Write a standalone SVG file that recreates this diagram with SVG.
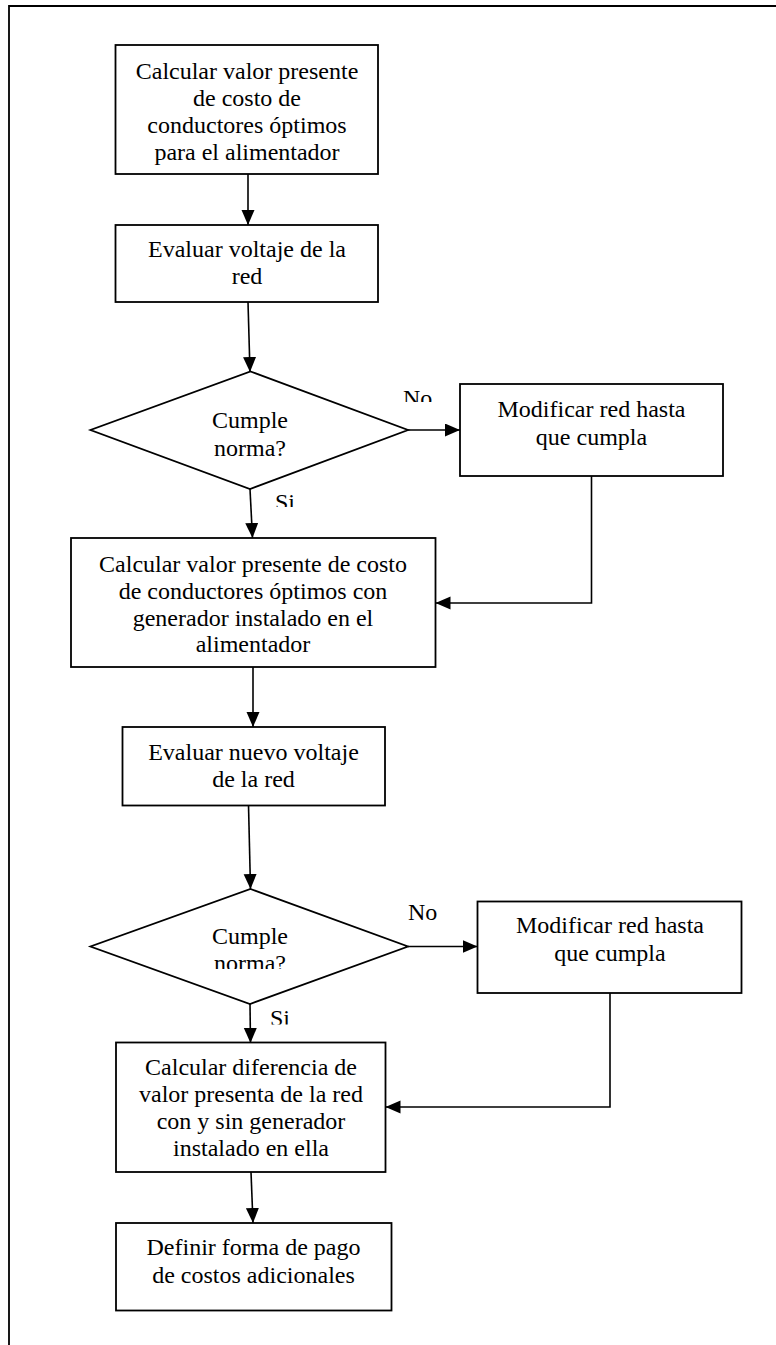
<svg xmlns="http://www.w3.org/2000/svg" width="776" height="1345" viewBox="0 0 776 1345">
<style>
  .box{fill:#fff;stroke:#000;stroke-width:1.8}
  .frame{fill:none;stroke:#000;stroke-width:1.8}
  .conn{fill:none;stroke:#000;stroke-width:1.6}
  text{font-family:"Liberation Serif","Times New Roman",serif;font-size:24px;fill:#000}
  .c{text-anchor:middle}
</style>
<defs>
  <marker id="ah" markerUnits="userSpaceOnUse" markerWidth="16" markerHeight="14" refX="15" refY="6.5" orient="auto">
    <path d="M0,0 L15,6.5 L0,13 Z" fill="#000"/>
  </marker>
  <clipPath id="clipNo1"><rect x="395" y="380" width="50" height="22"/></clipPath>
  <clipPath id="clipSi1"><rect x="268" y="485" width="40" height="22"/></clipPath>
  <clipPath id="clipNorma2"><rect x="180" y="948" width="140" height="21"/></clipPath>
  <clipPath id="clipSi2"><rect x="262" y="1002" width="40" height="22.5"/></clipPath>
</defs>
<rect width="776" height="1345" fill="#fff"/>
<g id="frame">
  <path class="frame" d="M9,1345 V6 H776"/>
</g>
<g id="connectors">
  <line class="conn" x1="248" y1="174" x2="248" y2="225" marker-end="url(#ah)"/>
  <line class="conn" x1="248" y1="302" x2="250" y2="372" marker-end="url(#ah)"/>
  <line class="conn" x1="408" y1="430" x2="460" y2="430" marker-end="url(#ah)"/>
  <polyline class="conn" points="591.5,476 591.5,603 435.5,603" marker-end="url(#ah)"/>
  <line class="conn" x1="250" y1="489" x2="252.5" y2="538" marker-end="url(#ah)"/>
  <line class="conn" x1="253" y1="667" x2="253" y2="727" marker-end="url(#ah)"/>
  <line class="conn" x1="248.5" y1="805" x2="250.5" y2="889" marker-end="url(#ah)"/>
  <line class="conn" x1="408" y1="946.5" x2="477.5" y2="946.5" marker-end="url(#ah)"/>
  <polyline class="conn" points="610,993 610,1107 385.5,1107" marker-end="url(#ah)"/>
  <line class="conn" x1="250" y1="1004" x2="250.5" y2="1043" marker-end="url(#ah)"/>
  <line class="conn" x1="251" y1="1172" x2="253" y2="1223" marker-end="url(#ah)"/>
  <text x="403" y="406" clip-path="url(#clipNo1)">No</text>
  <text x="275" y="509.5" clip-path="url(#clipSi1)">Si</text>
  <text x="408" y="920">No</text>
  <text x="270" y="1026" clip-path="url(#clipSi2)">Si</text>
</g>
<g id="n1">
  <rect class="box" x="115.5" y="45" width="262.5" height="129"/>
  <text class="c" x="247" y="78.5">Calcular valor presente</text>
  <text class="c" x="247" y="105.5">de costo de</text>
  <text class="c" x="247" y="132.5">conductores óptimos</text>
  <text class="c" x="247" y="159.5">para el alimentador</text>
</g>
<g id="n2">
  <rect class="box" x="115.5" y="225" width="262.5" height="77"/>
  <text class="c" x="247" y="257">Evaluar voltaje de la</text>
  <text class="c" x="247" y="284">red</text>
</g>
<g id="d1">
  <polygon class="box" points="250.5,371.5 408,430 250,489 90.5,430"/>
  <text class="c" x="250" y="428">Cumple</text>
  <text class="c" x="250" y="455.5">norma?</text>
</g>
<g id="m1">
  <rect class="box" x="460" y="384" width="263" height="92"/>
  <text class="c" x="591.5" y="417">Modificar red hasta</text>
  <text class="c" x="591.5" y="444.5">que cumpla</text>
</g>
<g id="n3">
  <rect class="box" x="71" y="538" width="364.5" height="129"/>
  <text class="c" x="253" y="571.5">Calcular valor presente de costo</text>
  <text class="c" x="253" y="598.5">de conductores óptimos con</text>
  <text class="c" x="253" y="625.5">generador instalado en el</text>
  <text class="c" x="253" y="652">alimentador</text>
</g>
<g id="n4">
  <rect class="box" x="122.5" y="727" width="262.5" height="78.5"/>
  <text class="c" x="253.5" y="760">Evaluar nuevo voltaje</text>
  <text class="c" x="253.5" y="787">de la red</text>
</g>
<g id="d2">
  <polygon class="box" points="250.5,889 408,946.5 250,1004 90.5,946.5"/>
  <text class="c" x="250" y="944">Cumple</text>
  <text class="c" x="250" y="971" clip-path="url(#clipNorma2)">norma?</text>
</g>
<g id="m2">
  <rect class="box" x="477.5" y="901.5" width="264" height="91.5"/>
  <text class="c" x="610" y="933">Modificar red hasta</text>
  <text class="c" x="610" y="961">que cumpla</text>
</g>
<g id="n6">
  <rect class="box" x="116" y="1042.5" width="269.5" height="129.5"/>
  <text class="c" x="251" y="1075">Calcular diferencia de</text>
  <text class="c" x="251" y="1102">valor presenta de la red</text>
  <text class="c" x="251" y="1129">con y sin generador</text>
  <text class="c" x="251" y="1156">instalado en ella</text>
</g>
<g id="n7">
  <rect class="box" x="116" y="1223" width="275.5" height="87.5"/>
  <text class="c" x="253.5" y="1255">Definir forma de pago</text>
  <text class="c" x="253.5" y="1283">de costos adicionales</text>
</g>
</svg>
